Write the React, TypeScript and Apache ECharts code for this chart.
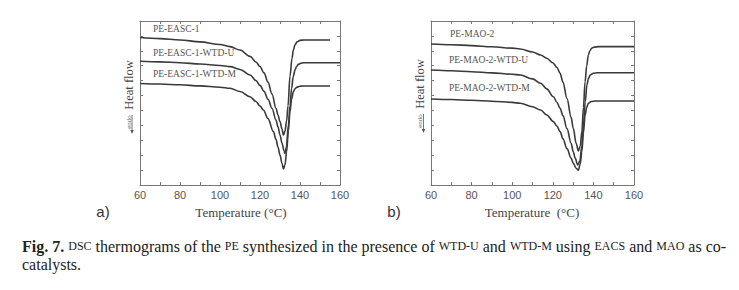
import React, { useEffect, useRef } from "react";
import * as echarts from "echarts";

// Temperature (°C) vs heat flow (arbitrary units) — panel a
const easc1: [number, number][] = [
  [60, 9.89], [70, 9.82], [80, 9.73], [90, 9.6], [100, 9.42], [105, 9.28], [110, 9.05],
  [115, 8.63], [118, 8.25], [120, 7.95], [122, 7.52], [124, 6.9], [126, 6.1], [128, 5.15],
  [129, 4.7], [130, 4.25], [131, 3.75], [131.7, 3.35], [132.5, 3.6], [133.3, 4.3], [134, 5.3],
  [135, 7.3], [136, 8.5], [136.7, 9.06], [137.5, 9.4], [138.5, 9.6], [140, 9.7], [142, 9.73],
  [145, 9.73], [150, 9.73], [155, 9.73],
];
const easc1U: [number, number][] = [
  [60, 8.3], [70, 8.26], [80, 8.2], [90, 8.12], [100, 8.02], [105, 7.94], [110, 7.75],
  [115, 7.38], [118, 7.0], [120, 6.68], [122, 6.28], [124, 5.75], [126, 5.15], [128, 4.35],
  [129, 3.9], [130, 3.35], [131, 2.8], [132, 2.3], [132.5, 2.13], [133.2, 2.55], [134.2, 4.02],
  [135, 5.3], [135.8, 6.49], [136.6, 7.25], [137.5, 7.71], [138.3, 7.95], [139.2, 8.09],
  [140.3, 8.16], [141.7, 8.2], [145, 8.2], [150, 8.2], [160, 8.2],
];
const easc1M: [number, number][] = [
  [60, 6.81], [70, 6.77], [80, 6.72], [90, 6.65], [100, 6.56], [105, 6.49], [110, 6.27],
  [115, 5.92], [118, 5.6], [120, 5.3], [121.7, 5.03], [124, 4.45], [126.7, 3.58], [128, 3.05],
  [129, 2.55], [130, 2.01], [131, 1.45], [131.7, 1.07], [132.5, 1.35], [133.3, 2.23],
  [134.2, 3.65], [135, 4.92], [135.8, 5.75], [136.7, 6.26], [137.5, 6.45], [138.3, 6.55],
  [140, 6.62], [141.5, 6.64], [145, 6.64], [150, 6.64], [155, 6.64],
];

// panel b
const mao2: [number, number][] = [
  [60, 9.46], [70, 9.41], [80, 9.35], [90, 9.27], [100, 9.18], [104, 9.12], [110, 8.92],
  [114, 8.72], [117, 8.5], [120, 8.2], [122, 7.9], [123.6, 7.49], [125, 6.9], [127, 5.8],
  [129, 4.55], [130.1, 3.8], [131.5, 2.8], [132.6, 2.28], [133.5, 2.6], [134.3, 3.58],
  [135.1, 5.2], [135.9, 6.93], [136.7, 8.0], [137.5, 8.72], [138.3, 9.0], [139.1, 9.17],
  [140.5, 9.25], [142.5, 9.28], [150, 9.28], [160, 9.28],
];
const mao2U: [number, number][] = [
  [60, 7.71], [70, 7.66], [80, 7.6], [90, 7.52], [100, 7.43], [104, 7.38], [110, 7.12],
  [114, 6.82], [117, 6.45], [120.3, 5.92], [122, 5.55], [123.6, 5.14], [125, 4.65], [127, 3.78],
  [129, 2.8], [130.1, 2.23], [131, 1.8], [132.3, 1.34], [133.3, 1.6], [134.3, 2.6], [135.1, 4.02],
  [136, 5.6], [136.8, 6.71], [137.6, 7.15], [138.4, 7.38], [140, 7.5], [142, 7.53], [150, 7.53],
  [160, 7.53],
];
const mao2M: [number, number][] = [
  [60, 5.77], [70, 5.73], [80, 5.68], [90, 5.62], [100, 5.54], [104, 5.48], [110, 5.25],
  [114, 5.03], [117, 4.7], [120.3, 4.25], [122, 3.95], [123.6, 3.58], [125, 3.1], [127, 2.44],
  [129, 1.8], [130.1, 1.45], [131.5, 1.12], [132.6, 1.0], [133.5, 1.4], [134.3, 2.23],
  [135.1, 3.5], [135.9, 4.69], [136.7, 5.2], [137.5, 5.48], [139, 5.6], [141, 5.63], [150, 5.63],
  [160, 5.63],
];

const labelsA = ["PE-EASC-1", "PE-EASC-1-WTD-U", "PE-EASC-1-WTD-M"];
const labelsB = ["PE-MAO-2", "PE-MAO-2-WTD-U", "PE-MAO-2-WTD-M"];
const xTicks = { min: 60, max: 160, interval: 20 };
const yRange = { min: 0, max: 11, interval: 1 };

const AXIS = "#777";
const LINE = "#3a3a3a";
const SERIF = "Liberation Serif";
const SANS = "Liberation Sans";

function xAxes(gridIndex: number) {
  const base = {
    type: "value" as const,
    gridIndex,
    min: xTicks.min,
    max: xTicks.max,
    interval: xTicks.interval,
    splitLine: { show: false },
    axisLine: { show: true, onZero: false, lineStyle: { color: AXIS, width: 1 } },
    axisTick: { show: true, inside: true, length: 3, lineStyle: { color: AXIS } },
    minorTick: { show: true, splitNumber: 2, length: 3, lineStyle: { color: AXIS } },
  };
  return [
    {
      ...base,
      position: "bottom",
      axisLabel: { color: "#555", fontSize: 11, fontFamily: SANS, margin: 4 },
    },
    { ...base, position: "top", axisLabel: { show: false } },
  ];
}

function yAxes(gridIndex: number) {
  const base = {
    type: "value" as const,
    gridIndex,
    min: yRange.min,
    max: yRange.max,
    interval: yRange.interval,
    splitLine: { show: false },
    axisLabel: { show: false },
    axisLine: { show: true, onZero: false, lineStyle: { color: AXIS, width: 1 } },
    axisTick: { show: true, inside: true, length: 3, lineStyle: { color: AXIS } },
  };
  return [
    { ...base, position: "left" },
    { ...base, position: "right" },
  ];
}

function txt(x: number, y: number, text: string, size: number, family: string, fill: string, align = "center", extra: any = {}) {
  return {
    type: "text",
    x,
    y,
    style: {
      text,
      fontFamily: family,
      fontSize: size,
      fill,
      textAlign: align,
      textVerticalAlign: "middle",
      ...extra,
    },
  };
}

function yTitle(x: number, y: number) {
  return {
    type: "group",
    x,
    y,
    rotation: Math.PI / 2,
    children: [
      txt(0, 0, "Heat flow", 12.5, SERIF, "#444"),
      txt(-37, 0, "endo", 7, SERIF, "#666"),
      {
        type: "line",
        shape: { x1: -30, y1: 3.5, x2: -47, y2: 3.5 },
        style: { stroke: "#555", lineWidth: 0.8 },
      },
      {
        type: "polygon",
        shape: { points: [[-49, 3.5], [-45, 1.8], [-45, 5.2]] },
        style: { fill: "#555" },
      },
    ],
  };
}

export default function App() {
  const ref = useRef<HTMLDivElement>(null);
  useEffect(() => {
    if (!ref.current) return;
    const chart = echarts.init(ref.current, null, { renderer: "svg" });
    const lineSeries = (data: [number, number][], g: number) => ({
      type: "line",
      xAxisIndex: g * 2,
      yAxisIndex: g * 2,
      data,
      showSymbol: false,
      symbol: "none",
      smooth: 0.35,
      smoothMonotone: "x",
      lineStyle: { color: LINE, width: 1.6 },
      silent: true,
    });
    chart.setOption({
      animation: false,
      backgroundColor: "#fff",
      grid: [
        { left: 140, top: 21, width: 200, height: 164 },
        { left: 431, top: 21, width: 203, height: 164 },
      ],
      xAxis: [...xAxes(0), ...xAxes(1)],
      yAxis: [...yAxes(0), ...yAxes(1)],
      series: [
        lineSeries(easc1, 0),
        lineSeries(easc1U, 0),
        lineSeries(easc1M, 0),
        lineSeries(mao2, 1),
        lineSeries(mao2U, 1),
        lineSeries(mao2M, 1),
      ],
      graphic: [
        txt(153, 29, labelsA[0], 9.5, SERIF, "#555", "left"),
        txt(153, 53, labelsA[1], 9.5, SERIF, "#555", "left"),
        txt(153, 74, labelsA[2], 9.5, SERIF, "#555", "left"),
        txt(450, 34, labelsB[0], 9.5, SERIF, "#555", "left"),
        txt(449, 60, labelsB[1], 9.5, SERIF, "#555", "left"),
        txt(449, 88, labelsB[2], 9.5, SERIF, "#555", "left"),
        yTitle(128.5, 85),
        yTitle(420, 84),
        txt(241, 212, "Temperature (°C)", 13, SERIF, "#444"),
        txt(532, 212, "Temperature  (°C)", 13, SERIF, "#444"),
        txt(103, 211, "a)", 15, SANS, "#333"),
        txt(394, 211, "b)", 15, SANS, "#333"),
        txt(
          22,
          246,
          "{b|Fig. 7.} {sc|DSC} thermograms of the {sc|PE} synthesized in the presence of {sc|WTD-U} and {sc|WTD-M} using {sc|EACS} and {sc|MAO} as co-",
          16,
          SERIF,
          "#222",
          "left",
          {
            rich: {
              b: { fontFamily: SERIF, fontSize: 16, fontWeight: "bold", fill: "#222" },
              sc: { fontFamily: SERIF, fontSize: 12, fill: "#222" },
            },
          }
        ),
        txt(22, 264, "catalysts.", 16, SERIF, "#222", "left"),
      ],
    });
    return () => chart.dispose();
  }, []);
  return (
    <div
      ref={ref}
      style={{ position: "absolute", left: 0, top: 0, width: 739, height: 290, background: "#fff" }}
    />
  );
}
